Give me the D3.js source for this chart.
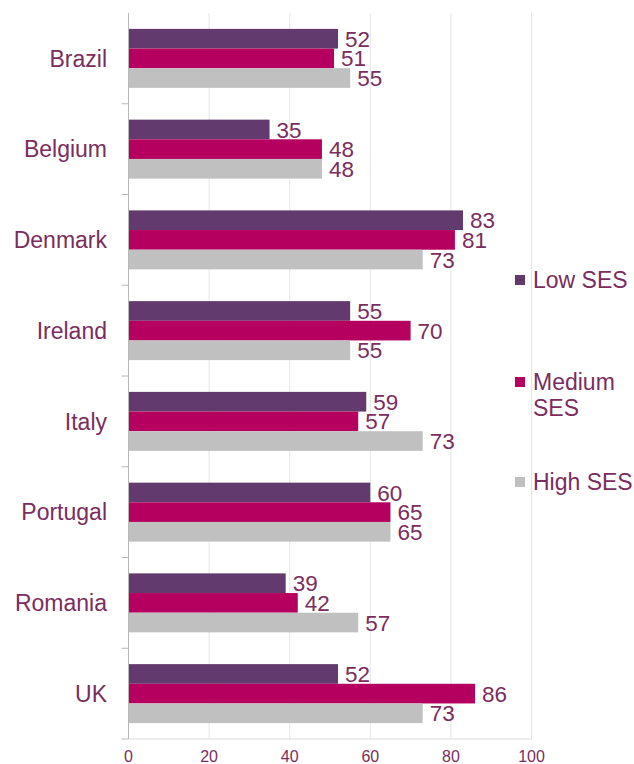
<!DOCTYPE html>
<html>
<head>
<meta charset="utf-8">
<script src="https://cdn.jsdelivr.net/npm/d3@7"></script>
<style>
  html, body { margin: 0; padding: 0; background: #fff; }
  svg text { font-family: "Liberation Sans", Arial, sans-serif; }
</style>
</head>
<body>
<svg id="chart" width="634" height="764"></svg>
<script>
const categories = ["Brazil", "Belgium", "Denmark", "Ireland", "Italy", "Portugal", "Romania", "UK"];
const seriesNames = ["Low SES", "Medium SES", "High SES"];
const lowSES    = [52, 35, 83, 55, 59, 60, 39, 52];
const mediumSES = [51, 48, 81, 70, 57, 65, 42, 86];
const highSES   = [55, 48, 73, 55, 73, 65, 57, 73];
const xTicks = [0, 20, 40, 60, 80, 100];

const colors = ["#633a6e", "#b5005f", "#c0c0c0"];
const textColor = "#7a2d5e";
const seriesValues = [lowSES, mediumSES, highSES];

const svg = d3.select("#chart");

const x = d3.scaleLinear().domain([0, 100]).range([128.5, 531.5]);
const y = d3.scaleBand().domain(categories).range([13, 739])
  .paddingInner(0.35).paddingOuter(0.175);
const ySub = d3.scaleBand().domain(seriesNames).range([0, y.bandwidth()]);

// gridlines
svg.append("g").selectAll("line")
  .data(xTicks.filter(d => d > 0))
  .join("line")
  .attr("x1", d => x(d)).attr("x2", d => x(d))
  .attr("y1", 13).attr("y2", 739)
  .attr("stroke", "#e6e6e6").attr("stroke-width", 1);

// bottom axis line
svg.append("line")
  .attr("x1", x(0)).attr("x2", x(100))
  .attr("y1", 739).attr("y2", 739)
  .attr("stroke", "#dcdcdc").attr("stroke-width", 1);

// bars
const groups = svg.append("g").selectAll("g")
  .data(categories)
  .join("g")
  .attr("transform", d => `translate(0,${y(d)})`);

seriesNames.forEach((s, si) => {
  groups.append("rect")
    .attr("x", x(0))
    .attr("y", ySub(s))
    .attr("width", (d, i) => x(seriesValues[si][i]) - x(0))
    .attr("height", ySub.bandwidth())
    .attr("fill", colors[si]);
  groups.append("text")
    .attr("x", (d, i) => x(seriesValues[si][i]) + 7)
    .attr("y", ySub(s) + ySub.bandwidth() / 2)
    .attr("dy", "0.36em")
    .attr("font-size", 22.5)
    .attr("fill", textColor)
    .text((d, i) => seriesValues[si][i]);
});

// y axis line
svg.append("line")
  .attr("x1", x(0)).attr("x2", x(0))
  .attr("y1", 13).attr("y2", 739)
  .attr("stroke", "#b8b8b8").attr("stroke-width", 1);

// y axis ticks at band boundaries
const step = y.step();
const boundaries = categories.map((c, i) => 13 + step * (i + 1));
svg.append("g").selectAll("line")
  .data(boundaries)
  .join("line")
  .attr("x1", x(0) - 7).attr("x2", x(0))
  .attr("y1", d => d).attr("y2", d => d)
  .attr("stroke", "#b8b8b8").attr("stroke-width", 1);

// category labels
svg.append("g").selectAll("text")
  .data(categories)
  .join("text")
  .attr("x", 107)
  .attr("y", d => y(d) - y.paddingOuter() * step + step / 2)
  .attr("dy", "0.36em")
  .attr("text-anchor", "end")
  .attr("font-size", 23)
  .attr("fill", textColor)
  .text(d => d);

// x tick labels
svg.append("g").selectAll("text")
  .data(xTicks)
  .join("text")
  .attr("x", d => x(d))
  .attr("y", 762)
  .attr("text-anchor", "middle")
  .attr("font-size", 16)
  .attr("fill", textColor)
  .text(d => d);

// legend
const legendItems = [
  { lines: ["Low SES"], y: 280 },
  { lines: ["Medium", "SES"], y: 382 },
  { lines: ["High SES"], y: 482 }
];
legendItems.forEach((item, i) => {
  svg.append("rect")
    .attr("x", 515).attr("y", item.y - 5)
    .attr("width", 10).attr("height", 10)
    .attr("fill", colors[i]);
  const t = svg.append("text")
    .attr("x", 533).attr("y", item.y)
    .attr("font-size", 23)
    .attr("fill", textColor);
  item.lines.forEach((ln, li) => {
    t.append("tspan").attr("x", 533).attr("dy", li === 0 ? "0.36em" : 26).text(ln);
  });
});
</script>
</body>
</html>
